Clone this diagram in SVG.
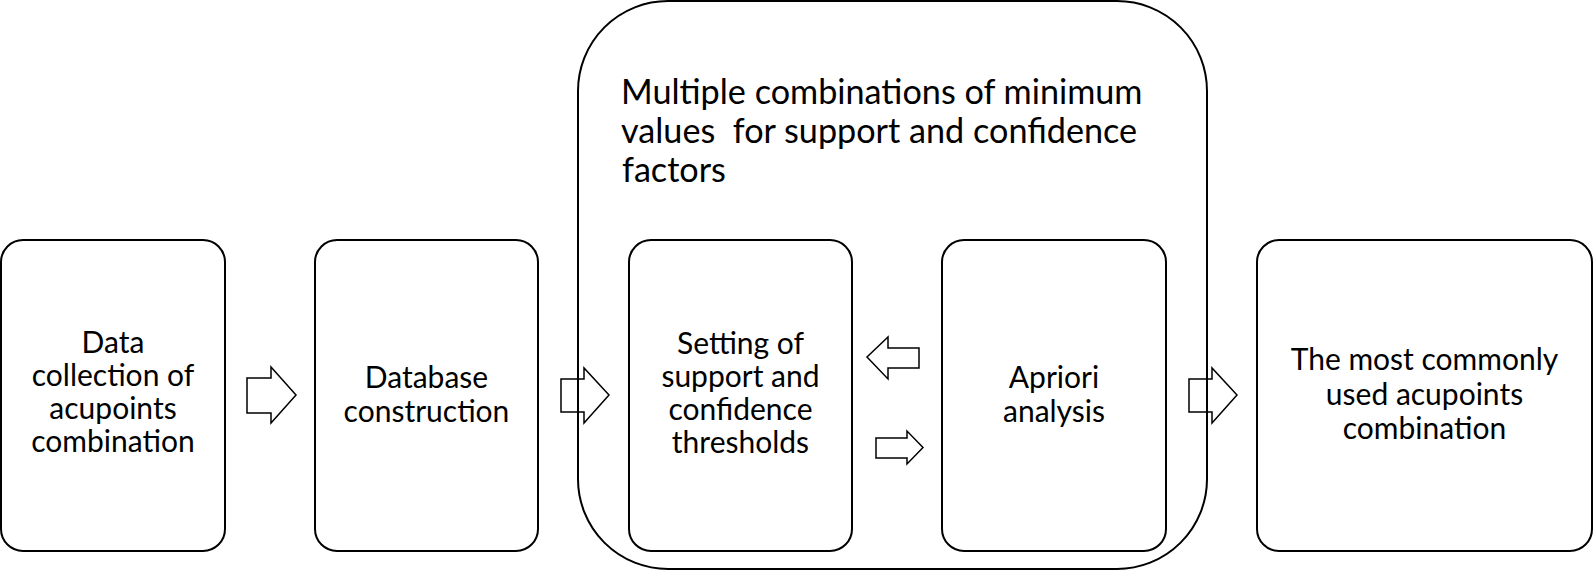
<svg xmlns="http://www.w3.org/2000/svg" width="1594" height="570" viewBox="0 0 1594 570">
  <style>
    .box { fill: #ffffff; stroke: #000000; stroke-width: 2; }
    .outer { fill: none; stroke: #000000; stroke-width: 2; }
    .lbl { font-family: Lato, "Liberation Sans", sans-serif; font-size: 30px; fill: #000000; text-anchor: middle; }
    .title { font-family: Lato, "Liberation Sans", sans-serif; font-size: 34.2px; fill: #000000; white-space: pre; }
    .arrow { fill: none; stroke: #000000; stroke-width: 1.5; stroke-linejoin: miter; }
  </style>
  <rect width="1594" height="570" fill="#ffffff"/>

  <g id="group-thresholds">
    <rect class="outer" x="578" y="1" width="629" height="568" rx="90" ry="90"/>
    <text class="title" x="621" y="104" xml:space="preserve">Multiple combinations of minimum</text>
    <text class="title" x="621" y="143" xml:space="preserve">values  for support and confidence</text>
    <text class="title" x="622" y="182" xml:space="preserve">factors</text>
  </g>

  <g id="node-data-collection">
    <rect class="box" x="1" y="240" width="224" height="311" rx="22" ry="22"/>
    <text class="lbl" x="113" y="353">Data</text>
    <text class="lbl" x="113" y="386">collection of</text>
    <text class="lbl" x="113" y="419">acupoints</text>
    <text class="lbl" x="113" y="452">combination</text>
  </g>

  <g id="node-database">
    <rect class="box" x="315" y="240" width="223" height="311" rx="22" ry="22"/>
    <text class="lbl" x="426.5" y="388">Database</text>
    <text class="lbl" x="426.5" y="422">construction</text>
  </g>

  <g id="node-setting">
    <rect class="box" x="629" y="240" width="223" height="311" rx="22" ry="22"/>
    <text class="lbl" x="740.5" y="354">Setting of</text>
    <text class="lbl" x="740.5" y="387">support and</text>
    <text class="lbl" x="740.5" y="420">confidence</text>
    <text class="lbl" x="740.5" y="453">thresholds</text>
  </g>

  <g id="node-apriori">
    <rect class="box" x="942" y="240" width="224" height="311" rx="22" ry="22"/>
    <text class="lbl" x="1054" y="388">Apriori</text>
    <text class="lbl" x="1054" y="422">analysis</text>
  </g>

  <g id="node-result">
    <rect class="box" x="1257" y="240" width="335" height="311" rx="22" ry="22"/>
    <text class="lbl" x="1424.5" y="370">The most commonly</text>
    <text class="lbl" x="1424.5" y="404.5">used acupoints</text>
    <text class="lbl" x="1424.5" y="439">combination</text>
  </g>

  <g id="connectors">
    <polygon class="arrow" points="247,378 271,378 271,367 296,395 271,423 271,413 247,413"/>
    <polygon class="arrow" points="561,379 584,379 584,368 609,395 584,423 584,412 561,412"/>
    <polygon class="arrow" points="919,348 888,348 888,337 867,357 888,379 888,368 919,368"/>
    <polygon class="arrow" points="876,438 907,438 907,431 923,447.5 907,464 907,458 876,458"/>
    <polygon class="arrow" points="1189,379 1212,379 1212,368 1237,395 1212,423 1212,412 1189,412"/>
  </g>
</svg>
